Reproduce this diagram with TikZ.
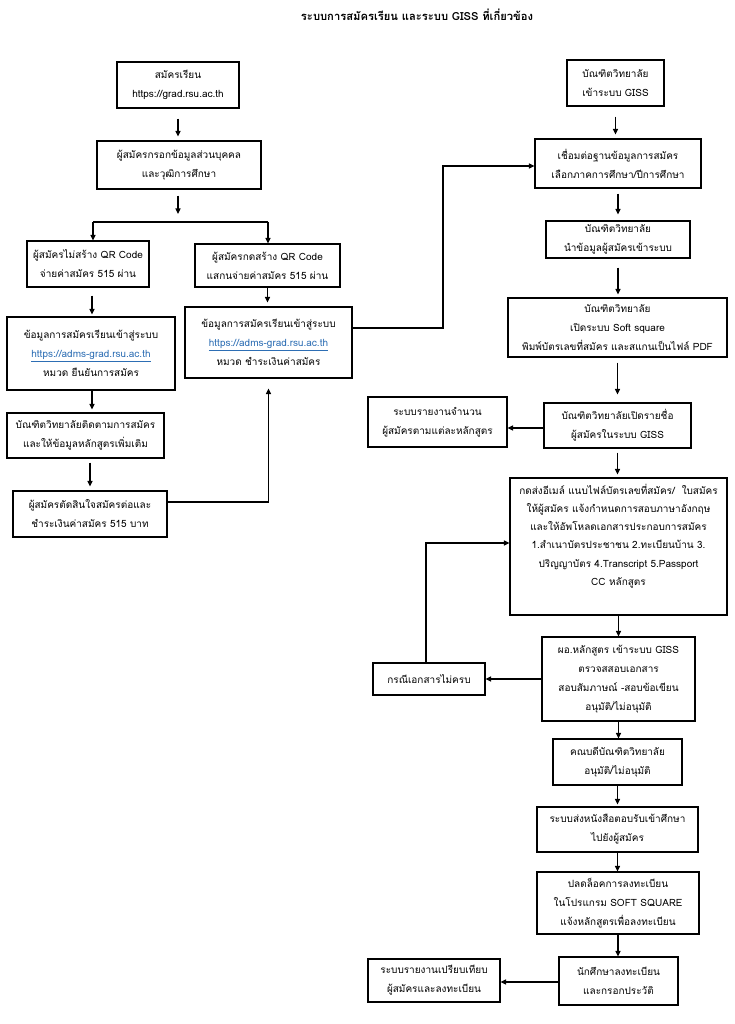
\documentclass[tikz,border=0pt]{standalone}
\usepackage{fontspec}
\setmainfont[Script=Thai]{Loma}
\usetikzlibrary{arrows.meta}
\definecolor{linkblue}{RGB}{45,110,180}
\newcommand{\weblink}[1]{\textcolor{linkblue}{\underline{#1}}}
\tikzset{
  box/.style={draw, line width=1.1pt, align=center, inner sep=2pt,
    font=\fontsize{10}{19}\selectfont},
  arr/.style={-{Triangle[length=5.5pt,width=5pt]}, line width=1.1pt},
  ln/.style={line width=1.1pt},
}
\begin{document}
\begin{tikzpicture}[x=1pt,y=-1pt]
\fill[white] (0,0) rectangle (734,1024);
\useasboundingbox (0,0) rectangle (734,1024);

\node[font=\bfseries\fontsize{11.2}{13}\selectfont] (title) at (417,15) {ระบบการสมัครเรียน และระบบ GISS ที่เกี่ยวข้อง};

% left column
\node[box, minimum width=122pt, minimum height=46pt] (L1) at (178,85) {สมัครเรียน\\https://grad.rsu.ac.th};
\node[box, minimum width=164pt, minimum height=48pt] (L2) at (179,165) {ผู้สมัครกรอกข้อมูลส่วนบุคคล\\และวุฒิการศึกษา};
\node[box, minimum width=122pt, minimum height=46pt] (L3) at (88,264) {ผู้สมัครไม่สร้าง QR Code\\จ่ายค่าสมัคร 515 ผ่าน};
\node[box, minimum width=145pt, minimum height=43pt] (L4) at (267.5,265.5) {ผู้สมัครกดสร้าง QR Code\\แสกนจ่ายค่าสมัคร 515 ผ่าน};
\node[box, minimum width=168pt, minimum height=73pt] (L5) at (91,353.5) {ข้อมูลการสมัครเรียนเข้าสู่ระบบ\\\weblink{https://adms-grad.rsu.ac.th}\\หมวด ยืนยันการสมัคร};
\node[box, minimum width=167pt, minimum height=71pt] (L6) at (268.5,342.5) {ข้อมูลการสมัครเรียนเข้าสู่ระบบ\\\weblink{https://adms-grad.rsu.ac.th}\\หมวด ชำระเงินค่าสมัคร};
\node[box, minimum width=157pt, minimum height=45pt] (L7) at (85.5,435.5) {บัณฑิตวิทยาลัยติดตามการสมัคร\\และให้ข้อมูลหลักสูตรเพิ่มเติม};
\node[box, minimum width=154pt, minimum height=46pt] (L8) at (90,514) {ผู้สมัครตัดสินใจสมัครต่อและ\\ชำระเงินค่าสมัคร 515 บาท};

% right column
\node[box, minimum width=97pt, minimum height=46pt] (R1) at (615.5,83) {บัณฑิตวิทยาลัย\\เข้าระบบ GISS};
\node[box, minimum width=166pt, minimum height=49pt] (R2) at (618,163.5) {เชื่อมต่อฐานข้อมูลการสมัคร\\เลือกภาคการศึกษา/ปีการศึกษา};
\node[box, minimum width=144pt, minimum height=37pt] (R3) at (618,239.5) {บัณฑิตวิทยาลัย\\นำข้อมูลผู้สมัครเข้าระบบ};
\node[box, minimum width=219pt, minimum height=59pt] (R4) at (617.5,327.5) {บัณฑิตวิทยาลัย\\เปิดระบบ Soft square\\พิมพ์บัตรเลขที่สมัคร และสแกนเป็นไฟล์ PDF};
\node[box, minimum width=147pt, minimum height=45pt] (R5) at (617.5,425.5) {บัณฑิตวิทยาลัยเปิดรายชื่อ\\ผู้สมัครในระบบ GISS};
\node[box, minimum width=139pt, minimum height=50pt] (Q1) at (437.5,422) {ระบบรายงานจำนวน\\ผู้สมัครตามแต่ละหลักสูตร};
\node[box, minimum width=217pt, minimum height=137pt, font=\fontsize{10}{18.2}\selectfont] (R6) at (618.5,546.5) {กดส่งอีเมล์ แนบไฟล์บัตรเลขที่สมัคร/~ ใบสมัคร\\ให้ผู้สมัคร แจ้งกำหนดการสอบภาษาอังกฤษ\\และให้อัพโหลดเอกสารประกอบการสมัคร\\1.สำเนาบัตรประชาชน 2.ทะเบียนบ้าน 3.\\ปริญญาบัตร 4.Transcript 5.Passport\\CC หลักสูตร\\\strut};
\node[box, minimum width=153pt, minimum height=84pt] (R7) at (618.5,679) {ผอ.หลักสูตร เข้าระบบ GISS\\ตรวจสสอบเอกสาร\\สอบสัมภาษณ์ -สอบข้อเขียน\\อนุมัติ/ไม่อนุมัติ};
\node[box, minimum width=112pt, minimum height=32pt] (C1) at (429,679) {กรณีเอกสารไม่ครบ};
\node[box, minimum width=129pt, minimum height=46pt] (R8) at (617.5,762) {คณบดีบัณฑิตวิทยาลัย\\อนุมัติ/ไม่อนุมัติ};
\node[box, minimum width=161pt, minimum height=45pt] (R9) at (617.5,829.5) {ระบบส่งหนังสือตอบรับเข้าศึกษา\\ไปยังผู้สมัคร};
\node[box, minimum width=162pt, minimum height=62pt] (R10) at (618,903) {ปลดล็อคการลงทะเบียน\\ในโปรแกรม SOFT SQUARE\\แจ้งหลักสูตรเพื่อลงทะเบียน};
\node[box, minimum width=119pt, minimum height=48pt] (R11) at (618.5,981) {นักศึกษาลงทะเบียน\\และกรอกประวัติ};
\node[box, minimum width=132pt, minimum height=43pt] (Q2) at (434,980.5) {ระบบรายงานเปรียบเทียบ\\ผู้สมัครและลงทะเบียน};

% left connectors
\draw[arr, shorten <=10pt, shorten >=4pt] (L1.south) -- (L1.south |- L2.north);
\coordinate (br) at (178,222);
\coordinate (bl) at (93,222);
\coordinate (brr) at (268,222);
\draw[arr, shorten <=6pt, shorten >=8pt] (L2.south -| br) -- (br);
\draw[ln] (bl) -- (brr);
\draw[arr] (bl) -- (bl |- L3.north);
\draw[arr] (brr) -- (brr |- L4.north);
\draw[arr, shorten <=8pt, shorten >=2pt] ([xshift=4pt]L3.south) -- ([xshift=4pt]L3.south |- L5.north);
\draw[arr, shorten >=4pt] (L4.south) -- (L4.south |- L6.north);
\draw[arr, shorten >=3pt] ([xshift=1pt]L5.south) -- ([xshift=1pt]L5.south |- L7.north);
\draw[arr, shorten <=4pt, shorten >=4pt] (L8.north |- L7.south) -- (L8.north);
\draw[arr, shorten >=10pt] ([yshift=12pt]L8.east) -| (L6.south);
\coordinate (m1) at (443,166);
\draw[arr] ([yshift=14.5pt]L6.east) -| (m1) -- (m1 -| R2.west);

% right connectors
\draw[arr, shorten <=10pt, shorten >=4pt] (R1.south) -- (R1.south |- R2.north);
\draw[arr, shorten <=5pt, shorten >=6pt] (R2.south) -- (R2.south |- R3.north);
\draw[arr, shorten <=9pt, shorten >=3pt] (R3.south) -- (R3.south |- R4.north);
\draw[arr, shorten <=5pt, shorten >=8pt] (R4.south -| R5.south) -- (R5.north);
\draw[arr] ([yshift=-2.5pt]R5.west) -- ([yshift=-2.5pt]R5.west -| Q1.east);
\draw[arr, shorten <=4pt, shorten >=3pt] (R5.south) -- (R5.south |- R6.north);
\draw[arr] (R6.south) -- (R6.south |- R7.north);
\draw[arr] (R7.west) -- (C1.east);
\coordinate (m2) at (426,543);
\draw[arr] (m2 |- C1.north) -- (m2) -- (m2 -| R6.west);
\draw[arr] (R7.south) -- (R7.south |- R8.north);
\draw[arr, shorten >=2pt] (R8.south) -- (R8.south |- R9.north);
\draw[arr] (R9.south) -- (R9.south |- R10.north);
\draw[arr] (R10.south) -- (R10.south |- R11.north);
\draw[arr] ([yshift=-1pt]R11.west) -- ([yshift=-1pt]R11.west -| Q2.east);
\end{tikzpicture}
\end{document}
